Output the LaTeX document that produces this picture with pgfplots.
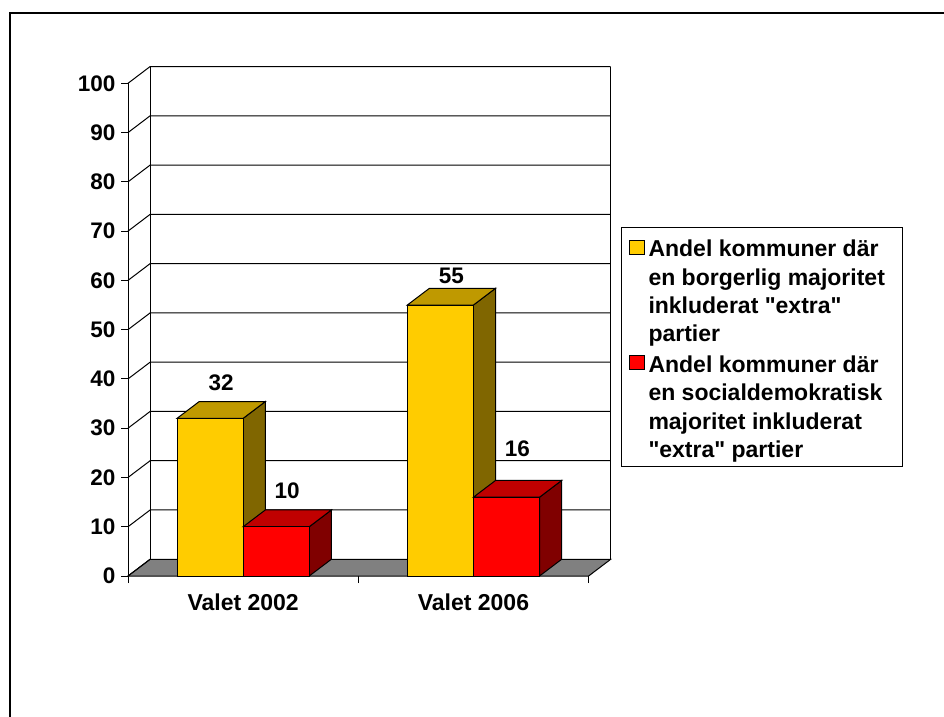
\documentclass[border=0pt]{standalone}
\usepackage{pgfplots}
\pgfplotsset{compat=1.18}
\usepackage{fontspec}
\setmainfont{Liberation Sans}[Ligatures=TeXOff]
\definecolor{yfront}{RGB}{255,204,0}
\definecolor{ytop}{RGB}{191,153,0}
\definecolor{yside}{RGB}{128,102,0}
\definecolor{rfront}{RGB}{255,0,0}
\definecolor{rtop}{RGB}{192,0,0}
\definecolor{rside}{RGB}{128,0,0}
\definecolor{floorgray}{RGB}{128,128,128}
\begin{document}
\begin{tikzpicture}
\path[use as bounding box] (0pt,0pt) rectangle (944pt,-716pt);
\draw[line width=2pt] (10pt,-720pt) -- (10pt,-13pt) -- (950pt,-13pt);
\begin{axis}[
  at={(128pt,-576pt)}, anchor=south west,
  x=230.3pt, y=4.927pt,
  xmin=0, xmax=2.096, ymin=0, ymax=103.4,
  clip=false,
  axis lines=left,
  axis line style={draw=none,-},
  ytick={0,10,...,100},
  yticklabel style={xshift=-2pt},
  xtick={0,1,2}, xticklabels={},
  extra x ticks={0.5,1.5},
  extra x tick labels={Valet 2002, Valet 2006},
  extra x tick style={major tick length=0pt, tick label style={yshift=-14.5pt, font=\fontsize{23}{26}\selectfont\bfseries}},
  tick align=outside, major tick length=7pt,
  tick style={black, line width=1pt},
  tick label style={font=\fontsize{22.5}{26}\selectfont\bfseries},
  /pgf/number format/assume math mode=true,
  legend style={at={(axis description cs:1.0213,0.6851)}, anchor=north west,
    draw=black, line width=1pt, inner xsep=8pt, inner ysep=7.2pt,
    row sep=12pt, column sep=4pt,
    cells={anchor=base west},
    nodes={inner sep=0pt},
    font=\fontsize{23}{28.4}\selectfont\bfseries},
]
% floor
\addplot[fill=floorgray, draw=black, line width=1pt, forget plot] coordinates {(0,0) (2,0) (2.096,3.4) (0.096,3.4)} -- cycle;
% gridlines on the back wall
\addplot[black, line width=1pt, forget plot] coordinates {(0,10) (0.096,13.4) (2.096,13.4)};
\addplot[black, line width=1pt, forget plot] coordinates {(0,20) (0.096,23.4) (2.096,23.4)};
\addplot[black, line width=1pt, forget plot] coordinates {(0,30) (0.096,33.4) (2.096,33.4)};
\addplot[black, line width=1pt, forget plot] coordinates {(0,40) (0.096,43.4) (2.096,43.4)};
\addplot[black, line width=1pt, forget plot] coordinates {(0,50) (0.096,53.4) (2.096,53.4)};
\addplot[black, line width=1pt, forget plot] coordinates {(0,60) (0.096,63.4) (2.096,63.4)};
\addplot[black, line width=1pt, forget plot] coordinates {(0,70) (0.096,73.4) (2.096,73.4)};
\addplot[black, line width=1pt, forget plot] coordinates {(0,80) (0.096,83.4) (2.096,83.4)};
\addplot[black, line width=1pt, forget plot] coordinates {(0,90) (0.096,93.4) (2.096,93.4)};
\addplot[black, line width=1pt, forget plot] coordinates {(0,100) (0.096,103.4) (2.096,103.4)};
\addplot[black, line width=1pt, forget plot] coordinates {(0,0) (0.096,3.4)};
% wall edges and front axis
\addplot[black, line width=1pt, forget plot] coordinates {(0.096,3.4) (0.096,103.4)};
\addplot[black, line width=1pt, forget plot] coordinates {(2.096,3.4) (2.096,103.4)};
\addplot[black, line width=1pt, forget plot] coordinates {(0,0) (0,100)};
% ---- Valet 2002 ----
\addplot[fill=yside, draw=black, line width=1pt, forget plot] coordinates {(0.5,0) (0.596,3.4) (0.596,35.4) (0.5,32)} -- cycle;
\addplot[fill=ytop, draw=black, line width=1pt, forget plot] coordinates {(0.213,32) (0.5,32) (0.596,35.4) (0.309,35.4)} -- cycle;
\addplot[fill=yfront, draw=black, line width=1pt, forget plot] coordinates {(0.213,0) (0.5,0) (0.5,32) (0.213,32)} -- cycle;
\addplot[fill=rside, draw=black, line width=1pt, forget plot] coordinates {(0.787,0) (0.883,3.4) (0.883,13.4) (0.787,10)} -- cycle;
\addplot[fill=rtop, draw=black, line width=1pt, forget plot] coordinates {(0.5,10) (0.787,10) (0.883,13.4) (0.596,13.4)} -- cycle;
\addplot[fill=rfront, draw=black, line width=1pt, forget plot] coordinates {(0.5,0) (0.787,0) (0.787,10) (0.5,10)} -- cycle;
% ---- Valet 2006 ----
\addplot[fill=yside, draw=black, line width=1pt, forget plot] coordinates {(1.5,0) (1.596,3.4) (1.596,58.4) (1.5,55)} -- cycle;
\addplot[fill=ytop, draw=black, line width=1pt, forget plot] coordinates {(1.213,55) (1.5,55) (1.596,58.4) (1.309,58.4)} -- cycle;
\addplot[fill=yfront, draw=black, line width=1pt, forget plot] coordinates {(1.213,0) (1.5,0) (1.5,55) (1.213,55)} -- cycle;
\addplot[fill=rside, draw=black, line width=1pt, forget plot] coordinates {(1.787,0) (1.883,3.4) (1.883,19.4) (1.787,16)} -- cycle;
\addplot[fill=rtop, draw=black, line width=1pt, forget plot] coordinates {(1.5,16) (1.787,16) (1.883,19.4) (1.596,19.4)} -- cycle;
\addplot[fill=rfront, draw=black, line width=1pt, forget plot] coordinates {(1.5,0) (1.787,0) (1.787,16) (1.5,16)} -- cycle;
% value labels
\node[anchor=base, font=\fontsize{22.5}{26}\selectfont\bfseries] at (axis cs:0.4045,37.75) {32};
\node[anchor=base, font=\fontsize{22.5}{26}\selectfont\bfseries] at (axis cs:0.6905,15.83) {10};
\node[anchor=base, font=\fontsize{22.5}{26}\selectfont\bfseries] at (axis cs:1.4045,59.27) {55};
\node[anchor=base, font=\fontsize{22.5}{26}\selectfont\bfseries] at (axis cs:1.6905,24.21) {16};
% legend
\addlegendimage{legend image code/.code={\draw[fill=yfront, draw=black, line width=1pt] (0pt,87.6pt) rectangle (14pt,101.6pt);}}
\addlegendentry{\parbox[b]{246pt}{\raggedright\rule{0pt}{22pt}Andel kommuner där\\en borgerlig majoritet\\inkluderat "extra"\\partier}}
\addlegendimage{legend image code/.code={\draw[fill=rfront, draw=black, line width=1pt] (0pt,87.6pt) rectangle (14pt,101.6pt);}}
\addlegendentry{\parbox[b]{246pt}{\raggedright Andel kommuner där\\en socialdemokratisk\\majoritet inkluderat\\"extra" partier}}
\end{axis}
\end{tikzpicture}
\end{document}
